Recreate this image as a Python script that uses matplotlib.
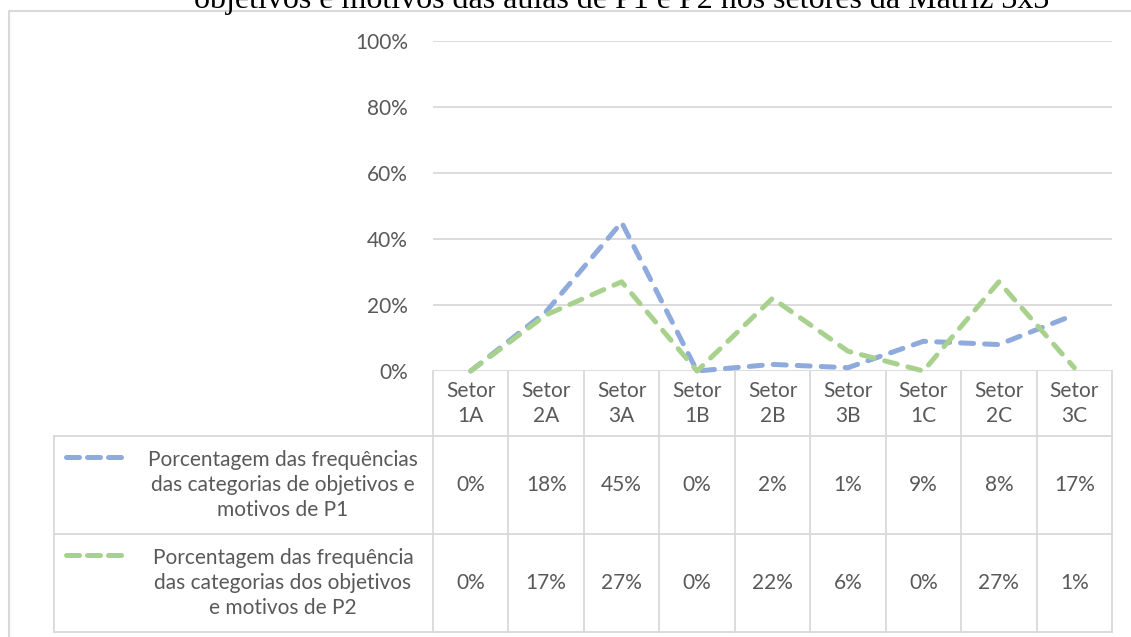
import matplotlib.pyplot as plt
from matplotlib.lines import Line2D

# dados
setores = ['1A', '2A', '3A', '1B', '2B', '3B', '1C', '2C', '3C']
p1 = [0, 18, 45, 0, 2, 1, 9, 8, 17]
p2 = [0, 17, 27, 0, 22, 6, 0, 27, 1]
serie_nomes = ['Porcentagem das frequências\ndas categorias de objetivos e\nmotivos de P1',
               'Porcentagem das frequência\ndas categorias dos objetivos\ne motivos de P2']
yticks = [0, 20, 40, 60, 80, 100]
titulo = 'objetivos e motivos das aulas de P1 e P2 nos setores da Matriz 3x3'

azul = '#8FAADC'
verde = '#A9D18E'
cinza = '#595959'
grade = '#D9D9D9'

plt.rcParams['font.family'] = ['Lato', 'DejaVu Sans']
fs = 15

W, H = 1131, 637
fig = plt.figure(figsize=(W / 100, H / 100), dpi=100)

# area do grafico em pixels
x0, x1 = 433, 1112
y_top, y_zero = 40.7, 371

ax = fig.add_axes([x0 / W, (H - y_zero) / H, (x1 - x0) / W, (y_zero - y_top) / H])
ax.set_xlim(-0.5, len(setores) - 0.5)
ax.set_ylim(0, 100)
for s in ax.spines.values():
    s.set_visible(False)
ax.set_xticks([])
ax.set_yticks(yticks)
ax.set_yticklabels([f'{v}%' for v in yticks], color=cinza, fontsize=fs)
ax.tick_params(axis='y', length=0, pad=18)
ax.grid(axis='y', color=grade, linewidth=1.3)
ax.set_axisbelow(True)

x = range(len(setores))
for vals, cor in [(p1, azul), (p2, verde)]:
    ax.plot(x, vals, color=cor, linewidth=3.6, dashes=(2.6, 2.2),
            dash_capstyle='round', solid_capstyle='round', clip_on=False)

# camada em pixels para tabela e moldura
ov = fig.add_axes([0, 0, 1, 1], zorder=-1)
ov.set_xlim(0, W)
ov.set_ylim(H, 0)
ov.axis('off')

# moldura do grafico
ov.add_line(Line2D([9, 9, 1140], [700, 11, 11], color=grade, linewidth=1.5))

# titulo (cortado no topo)
ov.text(622, 8, titulo, ha='center', va='baseline', fontsize=23,
        family='Liberation Serif', color='black')

cw = (x1 - x0) / len(setores)
rows = [371, 436, 534, 632]
tab_left = 54

# linhas da tabela
lw_t = 1.3
for i in range(len(setores) + 1):
    xx = x0 + i * cw
    ov.plot([xx, xx], [rows[0], rows[3]], color=grade, lw=lw_t)
for r in rows[1:]:
    ov.plot([tab_left, x1], [r, r], color=grade, lw=lw_t)
ov.plot([tab_left, tab_left], [rows[1], rows[3]], color=grade, lw=lw_t)

# cabecalho
for i, s in enumerate(setores):
    ov.text(x0 + (i + 0.5) * cw, (rows[0] + rows[1]) / 2, f'Setor\n{s}',
            ha='center', va='center', fontsize=fs, color=cinza, linespacing=1.3)

# linhas de dados
for k, (vals, cor, nome) in enumerate([(p1, azul, serie_nomes[0]), (p2, verde, serie_nomes[1])]):
    ytop, ybot = rows[k + 1], rows[k + 2]
    yc = (ytop + ybot) / 2
    ov.plot([66, 124], [ytop + 21, ytop + 21], color=cor, lw=3.6,
            dashes=(2.6, 1.6), dash_capstyle='round')
    ov.text(283, yc, nome, ha='center', va='center', fontsize=fs,
            color=cinza, linespacing=1.3)
    for i, v in enumerate(vals):
        ov.text(x0 + (i + 0.5) * cw, yc, f'{v}%', ha='center', va='center',
                fontsize=fs, color=cinza)

fig.savefig('out.png', dpi=100)
